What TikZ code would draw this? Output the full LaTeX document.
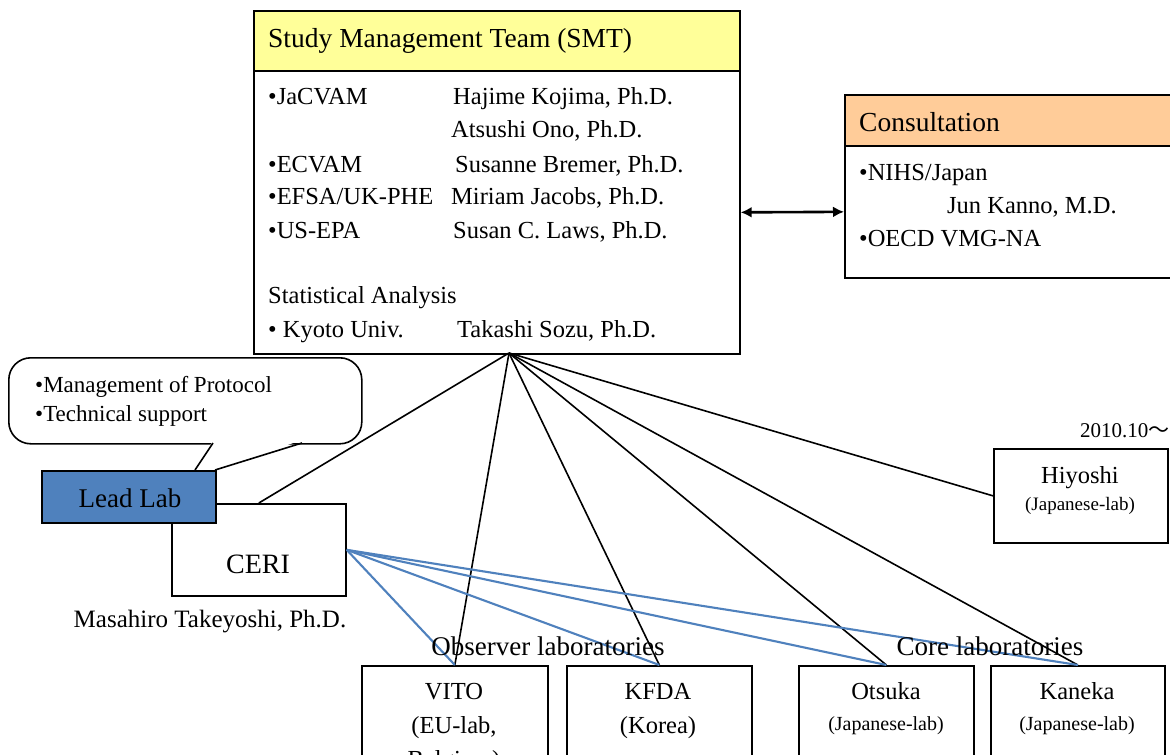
\documentclass[tikz,border=0pt]{standalone}
\usepackage{fontspec}
\setmainfont{Liberation Serif}
\newfontfamily\cjkfont{Noto Sans CJK JP}
\usetikzlibrary{arrows.meta}
\definecolor{smtyellow}{HTML}{FFFF99}
\definecolor{consorange}{HTML}{FFCC99}
\definecolor{leadblue}{HTML}{4F81BD}
\begin{document}
\begin{tikzpicture}[x=1pt,y=-1pt,
  box/.style={draw=black, line width=1.7pt, inner sep=0pt, anchor=north west},
  lt/.style={inner sep=0pt, anchor=base west, font=\fontsize{24.5}{28}\selectfont},
  ht/.style={inner sep=0pt, anchor=base west, font=\fontsize{27.5}{30}\selectfont},
  ct/.style={inner sep=0pt, anchor=base, font=\fontsize{24.5}{28}\selectfont},
  st/.style={inner sep=0pt, anchor=base, font=\fontsize{20}{24}\selectfont},
  bt/.style={inner sep=0pt, anchor=base, font=\fontsize{27}{30}\selectfont},
  conn/.style={draw=black, line width=1.6pt},
  bconn/.style={draw=leadblue, line width=2.1pt},
]
\clip (0,0) rectangle (1170,755);
\fill[white] (0,0) rectangle (1170,755);

% ---- Study Management Team
\node[box, fill=smtyellow, minimum width=486pt, minimum height=60pt] (smthead) at (253,10) {};
\node[box, fill=white, minimum width=486pt, minimum height=283pt] (smt) at (253,70) {};
\node[ht] (smttitle) at (268,47) {Study Management Team (SMT)};
\node[lt] (s1a) at (268,104) {•JaCVAM};
\node[lt] (s1b) at (453,104) {Hajime Kojima, Ph.D.};
\node[lt] (s2b) at (451,137) {Atsushi Ono, Ph.D.};
\node[lt] (s3a) at (268,172) {•ECVAM};
\node[lt] (s3b) at (455,172) {Susanne Bremer, Ph.D.};
\node[lt] (s4a) at (268,204) {•EFSA/UK-PHE};
\node[lt] (s4b) at (451,204) {Miriam Jacobs, Ph.D.};
\node[lt] (s5a) at (268,238) {•US-EPA};
\node[lt] (s5b) at (453,238) {Susan C. Laws, Ph.D.};
\node[lt] (s6a) at (268,303) {Statistical Analysis};
\node[lt] (s7a) at (268,337) {• Kyoto Univ.};
\node[lt] (s7b) at (457,337) {Takashi Sozu, Ph.D.};
\coordinate (hub) at (509,353);

% ---- Consultation
\node[box, fill=consorange, minimum width=340pt, minimum height=51pt] (conshead) at (844,94) {};
\node[box, fill=white, minimum width=340pt, minimum height=132pt] (cons) at (844,145) {};
\node[ht] (constitle) at (859,131) {Consultation};
\node[lt] (c1) at (859,180) {•NIHS/Japan};
\node[lt] (c2) at (947,213) {Jun Kanno, M.D.};
\node[lt] (c3) at (859,246) {•OECD VMG-NA};

\draw[draw=black, line width=2.6pt, {Latex[length=11pt,width=11pt]}-{Latex[length=11pt,width=11pt]}] (smt.east) -- (cons.west);

% ---- Callout
\node[draw=black, line width=1.6pt, fill=white, rounded corners=22pt, anchor=north west,
      minimum width=353pt, minimum height=86pt, inner sep=0pt] (callout) at (8,357) {};
\fill[white] (213.5,440) -- (195,470) -- (215,470) -- (302,440) -- cycle;
\draw[line width=1.6pt] (213,443) -- (195,470);
\draw[line width=1.6pt] (302,443) -- (215,470);
\node[inner sep=0pt, anchor=base west, font=\fontsize{23}{26}\selectfont] (k1) at (35,392) {•Management of Protocol};
\node[inner sep=0pt, anchor=base west, font=\fontsize{23}{26}\selectfont] (k2) at (35,421) {•Technical support};

% ---- CERI and Lead Lab
\node[box, fill=white, minimum width=174pt, minimum height=92pt] (ceri) at (171,503) {};
\node[box, fill=leadblue, minimum width=174pt, minimum height=52pt] (lead) at (41,470) {};
\node[inner sep=0pt, anchor=base, font=\fontsize{27}{30}\selectfont] (leadtxt) at (130,507) {Lead Lab};
\node[inner sep=0pt, anchor=base, font=\fontsize{28}{30}\selectfont] (ceritxt) at (258,573) {CERI};
\node[inner sep=0pt, anchor=base, font=\fontsize{25}{28}\selectfont] (takeyoshi) at (210,627) {Masahiro Takeyoshi, Ph.D.};

% ---- Hiyoshi
\node[box, fill=white, minimum width=174pt, minimum height=94pt] (hiyoshi) at (993,448) {};
\node[ct] (h1) at (1080,483) {Hiyoshi};
\node[inner sep=0pt, anchor=base, font=\fontsize{19}{22}\selectfont] (h2) at (1080,510) {(Japanese-lab)};
\node[inner sep=0pt, anchor=base west, font=\fontsize{21}{24}\selectfont] (date) at (1080,437) {2010.10{\cjkfont ～}};

% ---- bottom labs
\node[box, fill=white, minimum width=186pt, minimum height=130pt] (vito) at (361,665) {};
\node[box, fill=white, minimum width=185pt, minimum height=130pt] (kfda) at (566,665) {};
\node[box, fill=white, minimum width=175pt, minimum height=130pt] (otsuka) at (798,665) {};
\node[box, fill=white, minimum width=174pt, minimum height=130pt] (kaneka) at (990,665) {};
\node[ct] (v1) at (454,699) {VITO};
\node[ct] (v2) at (454,733) {(EU-lab,};
\node[ct] (v3) at (454,767) {Belgium)};
\node[ct] (f1) at (658,699) {KFDA};
\node[ct] (f2) at (658,733) {(Korea)};
\node[ct] (o1) at (886,699) {Otsuka};
\node[st] (o2) at (886,730) {(Japanese-lab)};
\node[ct] (n1) at (1077,699) {Kaneka};
\node[st] (n2) at (1077,730) {(Japanese-lab)};

% ---- connectors
\draw[conn] (hub) -- (ceri.north);
\draw[conn] (hub) -- (vito.north);
\draw[conn] (hub) -- (kfda.north);
\draw[conn] (hub) -- (otsuka.north);
\draw[conn] (hub) -- (kaneka.north);
\draw[conn] (hub) -- (hiyoshi.west);
\draw[bconn] (ceri.east) -- (vito.north);
\draw[bconn] (ceri.east) -- (kfda.north);
\draw[bconn] (ceri.east) -- (otsuka.north);
\draw[bconn] (ceri.east) -- (kaneka.north);

\node[bt] (obs) at (548,655) {Observer laboratories};
\node[bt] (core) at (990,655) {Core laboratories};
\end{tikzpicture}
\end{document}
